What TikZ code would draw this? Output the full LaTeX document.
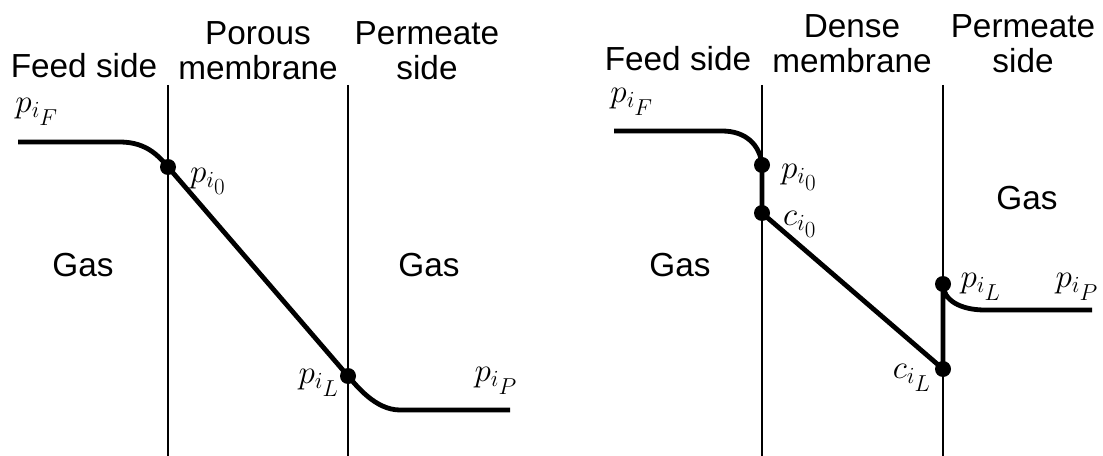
\documentclass[tikz,border=0pt]{standalone}
\usepackage{fontspec}
\setmainfont{Liberation Sans}
\newcommand{\sub}[3]{#1_{\scriptstyle #2_{\scriptstyle #3}}}
\begin{document}
\begin{tikzpicture}[x=0.75pt,y=-0.75pt,
  lbl/.style={inner sep=0pt,font=\fontsize{25}{29}\selectfont},
  mlbl/.style={inner sep=0pt,font=\fontsize{23}{28}\selectfont},
  wall/.style={line width=1.1pt},
  prof/.style={line width=3.6pt,line join=round},
  dot/.style={circle,fill=black,inner sep=0pt,minimum size=12pt}]
\useasboundingbox (0,0) rectangle (1103,456);
% ---------- left panel ----------
\draw[wall] (168,85) -- (168,456);
\draw[wall] (348,85) -- (348,456);
\node[lbl] (feedL) at (84,66) {Feed side};
\node[lbl] (porous) at (258,33) {Porous};
\node[lbl] (memL) at (258,68) {membrane};
\node[lbl] (permL) at (427,33) {Permeate};
\node[lbl] (sideL) at (427,68) {side};
\node[lbl] (gasL1) at (83,265) {Gas};
\node[lbl] (gasL2) at (429,265) {Gas};
\coordinate (L0) at (18,142);
\coordinate (L1) at (510,410);
\node[dot] (Lp0) at (168,167) {};
\node[dot] (LpL) at (348,376) {};
\draw[prof] (L0) -- (120,142) .. controls (148,142) and (160,158) .. (Lp0.center)
  -- (LpL.center) .. controls (356,385) and (375,410) .. (400,410) -- (L1);
\node[mlbl] (LpF) at (37,112) {$\sub{p}{i}{F}$};
\node[mlbl] (Lpi0) at (208,181) {$\sub{p}{i}{0}$};
\node[mlbl] (LpiL) at (319,383) {$\sub{p}{i}{L}$};
\node[mlbl] (LpiP) at (496,381) {$\sub{p}{i}{P}$};
% ---------- right panel ----------
\draw[wall] (762,85) -- (762,456);
\draw[wall] (943,85) -- (943,456);
\node[lbl] (feedR) at (678,59) {Feed side};
\node[lbl] (dense) at (852,26) {Dense};
\node[lbl] (memR) at (852,61) {membrane};
\node[lbl] (permR) at (1023,26) {Permeate};
\node[lbl] (sideR) at (1023,61) {side};
\node[lbl] (gasR1) at (680,265) {Gas};
\node[lbl] (gasR2) at (1027,198) {Gas};
\coordinate (R0) at (614,131);
\coordinate (R1) at (1092,310);
\node[dot] (Rp0) at (762,165) {};
\node[dot] (Rc0) at (762,213) {};
\node[dot] (RcL) at (943,369) {};
\node[dot] (RpL) at (943,284) {};
\draw[prof] (R0) -- (722,131) .. controls (746,131) and (760,145) .. (Rp0.center)
  -- (Rc0.center) -- (RcL.center) -- (RpL.center)
  .. controls (943,300) and (960,310) .. (985,310) -- (R1);
\node[mlbl] (RpF) at (632,102) {$\sub{p}{i}{F}$};
\node[mlbl] (Rpi0) at (799,177) {$\sub{p}{i}{0}$};
\node[mlbl] (Rci0) at (800,224) {$\sub{c}{i}{0}$};
\node[mlbl] (RciL) at (912,378) {$\sub{c}{i}{L}$};
\node[mlbl] (RpiL) at (981,287) {$\sub{p}{i}{L}$};
\node[mlbl] (RpiP) at (1077,287) {$\sub{p}{i}{P}$};
\end{tikzpicture}
\end{document}
